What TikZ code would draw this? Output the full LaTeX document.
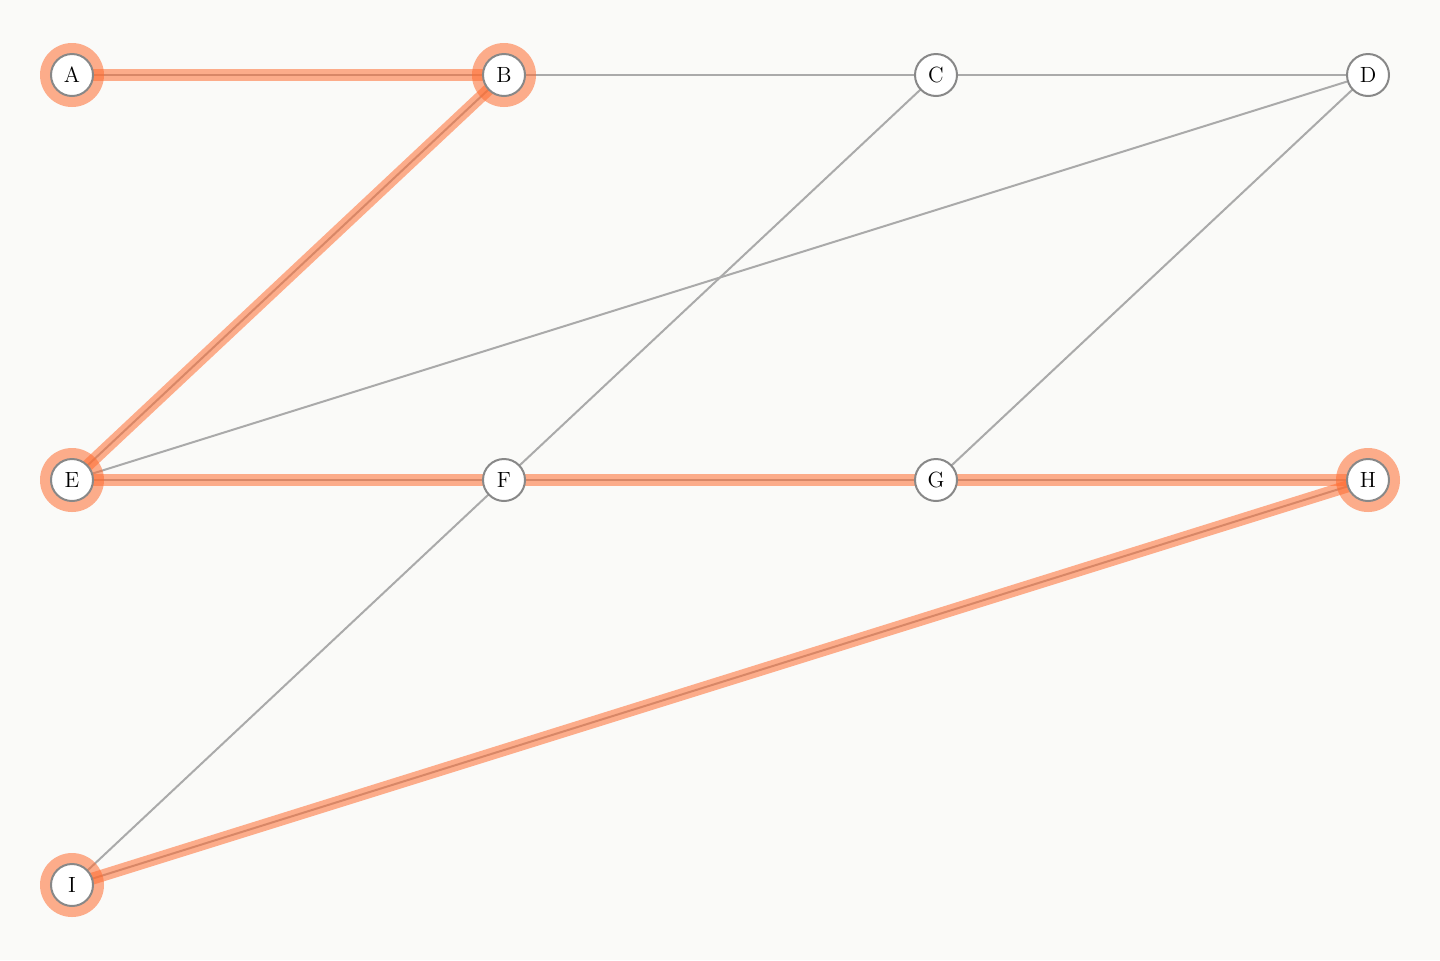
\documentclass[tikz,border=0pt]{standalone}
\usepackage{xcolor}
\usetikzlibrary{backgrounds}

\definecolor{paper}{RGB}{250,250,248}
\definecolor{wire}{RGB}{170,170,170}
\definecolor{rim}{RGB}{136,136,136}
\definecolor{hot}{RGB}{255,108,48}

\begin{document}
\begin{tikzpicture}[x=0.5pt,y=-0.5pt,
	vertex/.style={circle,draw=rim,line width=1pt,fill=white,minimum size=21pt,inner sep=0pt,font=\fontsize{11}{13}\selectfont},
	wire/.style={draw=wire,line width=1pt},
	band/.style={draw=hot,line width=6pt,draw opacity=0.55},
	halo/.style={fill=hot,fill opacity=0.55}]
	\useasboundingbox (0,0) rectangle (1440,960);

	\node[vertex] (A) at (72,75) {A};
	\node[vertex] (B) at (504,75) {B};
	\node[vertex] (C) at (936,75) {C};
	\node[vertex] (D) at (1368,75) {D};
	\node[vertex] (E) at (72,480) {E};
	\node[vertex] (F) at (504,480) {F};
	\node[vertex] (G) at (936,480) {G};
	\node[vertex] (H) at (1368,480) {H};
	\node[vertex] (I) at (72,885) {I};

	\begin{pgfonlayer}{background}
		\fill[paper] (0,0) rectangle (1440,960);
		% all edges
		\foreach \a/\b in {A/B,B/C,C/D,B/E,C/F,D/E,D/G,E/F,F/G,G/H,F/I,H/I}{
			\draw[wire] (\a.center) -- (\b.center);
		}
		% chosen path
		\foreach \a/\b in {A/B,B/E,E/F,F/G,G/H,H/I}{
			\draw[band] (\a.center) -- (\b.center);
		}
		\foreach \v in {A,B,E,H,I}{
			\fill[halo] (\v.center) circle (16pt);
		}
	\end{pgfonlayer}
\end{tikzpicture}
\end{document}
